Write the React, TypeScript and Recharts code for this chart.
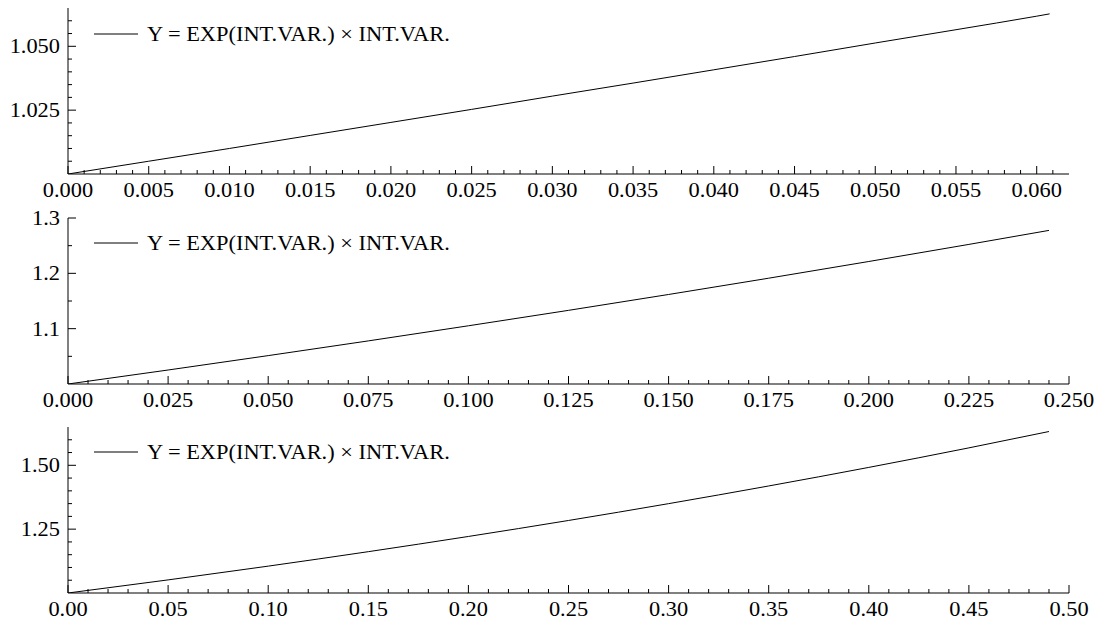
import { LineChart, Line, XAxis, YAxis, Legend } from "recharts"

// ---------- data ----------

const LEGEND_LABEL = "Y = EXP(INT.VAR.) × INT.VAR."

// panel 1
const x1 = [0, 0.005, 0.01, 0.015, 0.02, 0.025, 0.03, 0.035, 0.04, 0.045, 0.05, 0.055, 0.06, 0.0608]
const y1 = [1, 1.005, 1.01, 1.0151, 1.0202, 1.0253, 1.0305, 1.0356, 1.0408, 1.046, 1.0513, 1.0565, 1.0618, 1.0627]
const xMajor1 = [0, 0.005, 0.01, 0.015, 0.02, 0.025, 0.03, 0.035, 0.04, 0.045, 0.05, 0.055, 0.06]
const yMajor1 = [1.025, 1.05]

// panel 2
const x2 = [0, 0.025, 0.05, 0.075, 0.1, 0.125, 0.15, 0.175, 0.2, 0.225, 0.245]
const y2 = [1, 1.0253, 1.0513, 1.0779, 1.1052, 1.1331, 1.1618, 1.1912, 1.2214, 1.2523, 1.2776]
const xMajor2 = [0, 0.025, 0.05, 0.075, 0.1, 0.125, 0.15, 0.175, 0.2, 0.225, 0.25]
const yMajor2 = [1.1, 1.2, 1.3]

// panel 3
const x3 = [0, 0.05, 0.1, 0.15, 0.2, 0.25, 0.3, 0.35, 0.4, 0.45, 0.49]
const y3 = [1, 1.0513, 1.1052, 1.1618, 1.2214, 1.284, 1.3499, 1.4191, 1.4918, 1.5683, 1.6323]
const xMajor3 = [0, 0.05, 0.1, 0.15, 0.2, 0.25, 0.3, 0.35, 0.4, 0.45, 0.5]
const yMajor3 = [1.25, 1.5]

const FONT = '"Liberation Serif", "Times New Roman", Times, serif'
const FONT_SIZE = 20
const STRETCH = 1.12 // the reference glyphs are a bit wider than Liberation Serif

// minor tick positions
function steps(from: number, to: number, step: number) {
  const out: number[] = []
  const n = Math.round((to - from) / step)
  for (let i = 0; i <= n; i++) out.push(Number((from + i * step).toFixed(6)))
  return out
}

const isMajor = (v: number, majors: number[]) => majors.some((m) => Math.abs(m - v) < 1e-9)

// ---------- ticks ----------

function XTick(props: any) {
  const { x, y, payload, majors, digits } = props
  const v = payload.value
  const major = isMajor(v, majors)
  return (
    <g>
      <line x1={x} x2={x} y1={y} y2={y - (major ? 8 : 4)} stroke="#000" />
      {major && (
        <text
          transform={`translate(${x} ${y + 23}) scale(${STRETCH} 1)`}
          textAnchor="middle"
          style={{ fontFamily: FONT }}
          fontSize={FONT_SIZE}
          fill="#000"
        >
          {v.toFixed(digits)}
        </text>
      )}
    </g>
  )
}

function YTick(props: any) {
  const { x, y, payload, majors, digits } = props
  const v = payload.value
  const major = isMajor(v, majors)
  return (
    <g>
      <line x1={x} x2={x + (major ? 8 : 4)} y1={y} y2={y} stroke="#000" />
      {major && (
        <text
          transform={`translate(${x - 8} ${y}) scale(${STRETCH} 1)`}
          dy="0.35em"
          textAnchor="end"
          style={{ fontFamily: FONT }}
          fontSize={FONT_SIZE}
          fill="#000"
        >
          {v.toFixed(digits)}
        </text>
      )}
    </g>
  )
}

function LegendBox() {
  return (
    <div style={{ display: "flex", alignItems: "center", fontFamily: FONT, fontSize: FONT_SIZE, lineHeight: "26px", color: "#000", whiteSpace: "nowrap" }}>
      <svg width={44} height={4}>
        <line x1={0} x2={44} y1={2} y2={2} stroke="#000" />
      </svg>
      <span style={{ marginLeft: 9, display: "inline-block", transform: `scaleX(${STRETCH})`, transformOrigin: "left center" }}>
        {LEGEND_LABEL}
      </span>
    </div>
  )
}

// ---------- panel ----------

type PanelProps = {
  top: number
  xs: number[]
  ys: number[]
  xDomain: [number, number]
  yDomain: [number, number]
  xTicks: number[]
  yTicks: number[]
  xMajor: number[]
  yMajor: number[]
  xDigits: number
  yDigits: number
  legendTop: number
}

function Panel(p: PanelProps) {
  const data = p.xs.map((x, i) => ({ x, y: p.ys[i] }))
  return (
    <div style={{ position: "absolute", left: 0, top: p.top }}>
      <LineChart width={1099} height={220} data={data} margin={{ top: 18, right: 30, bottom: 0, left: 0 }}>
        <XAxis
          dataKey="x"
          type="number"
          domain={p.xDomain}
          ticks={p.xTicks}
          interval={0}
          height={36}
          tickSize={0}
          tickMargin={0}
          tickLine={false}
          axisLine={{ stroke: "#000" }}
          allowDataOverflow
          tick={<XTick majors={p.xMajor} digits={p.xDigits} />}
        />
        <YAxis
          type="number"
          domain={p.yDomain}
          ticks={p.yTicks}
          interval={0}
          width={68}
          tickSize={0}
          tickMargin={0}
          tickLine={false}
          axisLine={{ stroke: "#000" }}
          allowDataOverflow
          tick={<YTick majors={p.yMajor} digits={p.yDigits} />}
        />
        <Legend
          layout="horizontal"
          verticalAlign="middle"
          align="center"
          content={() => <LegendBox />}
          wrapperStyle={{ left: 94, top: p.legendTop, width: "auto" }}
        />
        <Line
          type="monotone"
          dataKey="y"
          stroke="#000"
          strokeWidth={1}
          dot={false}
          activeDot={false}
          isAnimationActive={false}
        />
      </LineChart>
    </div>
  )
}

export default function App() {
  return (
    <div style={{ position: "absolute", left: 0, top: 0, width: 1099, height: 620, background: "#fff", overflow: "hidden" }}>
      <Panel
        top={-10}
        xs={x1}
        ys={y1}
        xDomain={[0, 0.062]}
        yDomain={[1, 1.065]}
        xTicks={steps(0, 0.061, 0.001)}
        yTicks={steps(1.005, 1.06, 0.005)}
        xMajor={xMajor1}
        yMajor={yMajor1}
        xDigits={3}
        yDigits={3}
        legendTop={31}
      />
      <Panel
        top={200}
        xs={x2}
        ys={y2}
        xDomain={[0, 0.25]}
        yDomain={[1, 1.3]}
        xTicks={steps(0, 0.25, 0.005)}
        yTicks={steps(1.05, 1.3, 0.05)}
        xMajor={xMajor2}
        yMajor={yMajor2}
        xDigits={3}
        yDigits={1}
        legendTop={30}
      />
      <Panel
        top={409}
        xs={x3}
        ys={y3}
        xDomain={[0, 0.5]}
        yDomain={[1, 1.65]}
        xTicks={steps(0, 0.5, 0.01)}
        yTicks={steps(1.05, 1.6, 0.05)}
        xMajor={xMajor3}
        yMajor={yMajor3}
        xDigits={2}
        yDigits={2}
        legendTop={30}
      />
    </div>
  )
}
